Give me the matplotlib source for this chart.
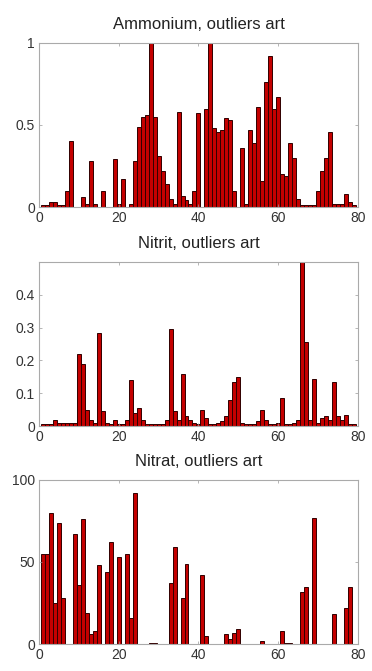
import numpy as np
import matplotlib.pyplot as plt

plt.rcParams['font.family'] = ['Liberation Sans', 'DejaVu Sans']

x = np.arange(1, 80)

ammonium = [0.01, 0.01, 0.03, 0.03, 0.01, 0.01, 0.1, 0.4, 0.0, 0.0,
            0.06, 0.02, 0.28, 0.02, 0.0, 0.1, 0.0, 0.0, 0.29, 0.02,
            0.17, 0.0, 0.02, 0.28, 0.49, 0.55, 0.56, 1.0, 0.55, 0.31,
            0.22, 0.14, 0.05, 0.02, 0.58, 0.07, 0.04, 0.02, 0.1, 0.57,
            0.0, 0.6, 1.0, 0.48, 0.46, 0.47, 0.54, 0.53, 0.1, 0.0,
            0.36, 0.02, 0.47, 0.39, 0.61, 0.16, 0.76, 0.92, 0.6, 0.67,
            0.2, 0.19, 0.39, 0.3, 0.05, 0.01, 0.01, 0.01, 0.01, 0.1,
            0.22, 0.3, 0.46, 0.02, 0.02, 0.02, 0.08, 0.03, 0.01]

nitrit = [0.005, 0.005, 0.005, 0.02, 0.01, 0.01, 0.01, 0.01, 0.01, 0.22,
          0.19, 0.05, 0.02, 0.01, 0.285, 0.045, 0.01, 0.005, 0.02, 0.005,
          0.005, 0.02, 0.14, 0.04, 0.055, 0.02, 0.005, 0.005, 0.005, 0.005,
          0.005, 0.02, 0.295, 0.045, 0.02, 0.16, 0.03, 0.02, 0.01, 0.005,
          0.05, 0.025, 0.005, 0.005, 0.01, 0.015, 0.03, 0.08, 0.135, 0.15,
          0.01, 0.005, 0.005, 0.005, 0.015, 0.05, 0.02, 0.005, 0.005, 0.01,
          0.085, 0.005, 0.005, 0.01, 0.02, 0.5, 0.255, 0.02, 0.145, 0.01,
          0.025, 0.03, 0.02, 0.135, 0.03, 0.02, 0.035, 0.005, 0.005]

nitrat = [55, 55, 80, 25, 74, 28, 0, 0, 67, 36,
          76, 19, 6, 8, 48, 0, 44, 62, 0, 53,
          0, 55, 16, 92, 0, 0, 0, 0.5, 0.5, 0.3,
          0, 0, 37, 59, 0, 28, 49, 0, 0, 0,
          42, 5, 0, 0, 0, 0, 6, 3, 7, 9,
          0, 0, 0, 0, 0, 2, 0, 0, 0, 0,
          8, 0.5, 0.5, 0, 0, 32, 35, 0, 77, 0,
          0, 0, 0, 18, 0, 0, 22, 35, 0]

panels = [
    ("Ammonium, outliers art", ammonium, (0, 1), [0, 0.5, 1], ["0", "0.5", "1"]),
    ("Nitrit, outliers art", nitrit, (0, 0.5), [0, 0.1, 0.2, 0.3, 0.4], ["0", "0.1", "0.2", "0.3", "0.4"]),
    ("Nitrat, outliers art", nitrat, (0, 100), [0, 50, 100], ["0", "50", "100"]),
]

fig = plt.figure(figsize=(3.72, 6.71), dpi=100)

# axes boxes in figure fractions [left, bottom, width, height]
boxes = [
    [0.105, 0.6915, 0.857, 0.2445],
    [0.105, 0.365, 0.857, 0.2445],
    [0.105, 0.0402, 0.857, 0.2445],
]

for box, (title, vals, ylim, yt, ytl) in zip(boxes, panels):
    ax = fig.add_axes(box)
    ax.bar(x, vals, width=1.0, color="#c40000", edgecolor="#300000", linewidth=0.7)
    ax.set_xlim(0, 80)
    ax.set_ylim(*ylim)
    ax.set_xticks([0, 20, 40, 60, 80])
    ax.set_yticks(yt)
    ax.set_yticklabels(ytl)
    ax.tick_params(direction="in", length=2, width=0.5, color="#999999",
                   labelsize=10, labelcolor="#333333", top=True, right=True, pad=3)
    for s in ax.spines.values():
        s.set_color("#aaaaaa")
        s.set_linewidth(0.8)
    ax.set_title(title, fontsize=12, color="#222222", pad=10)

fig.savefig("out.png", dpi=100)
